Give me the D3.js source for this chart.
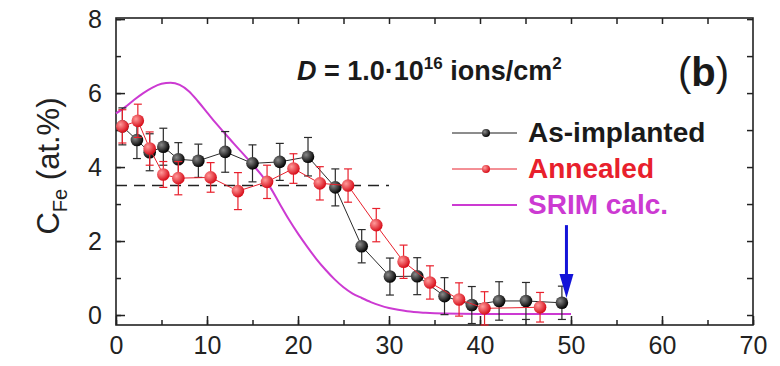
<!DOCTYPE html>
<html>
<head>
<meta charset="utf-8">
<script src="https://cdn.jsdelivr.net/npm/d3@7"></script>
<style>
  body { margin: 0; background: #fff; }
  svg { display: block; font-family: "Liberation Sans", Arial, sans-serif; }
</style>
</head>
<body>
<svg id="chart" width="780" height="366"></svg>
<script>
// depth (nm) and Fe concentration (at.%)
const asX   = [0.7, 2.3, 3.7, 5.2, 6.85, 9.05, 12.0, 15.0, 18.0, 21.1, 24.1, 27.0, 30.1, 33.1, 36.1, 39.1, 42.1, 45.05, 49.0];
const asY   = [5.1, 4.73, 4.4, 4.55, 4.21, 4.17, 4.41, 4.1, 4.14, 4.28, 3.45, 1.86, 1.04, 1.05, 0.51, 0.27, 0.38, 0.38, 0.33];
const asErr = [0.5, 0.5, 0.5, 0.5, 0.45, 0.45, 0.55, 0.5, 0.5, 0.52, 0.5, 0.45, 0.5, 0.5, 0.5, 0.5, 0.52, 0.5, 0.45];

const anX   = [0.7, 2.4, 3.7, 5.2, 6.85, 10.4, 13.4, 16.6, 19.5, 22.4, 25.5, 28.6, 31.6, 34.5, 37.7, 40.5, 46.6];
const anY   = [5.1, 5.25, 4.5, 3.8, 3.7, 3.72, 3.35, 3.6, 3.96, 3.56, 3.5, 2.43, 1.44, 0.88, 0.42, 0.18, 0.21];
const anErr = [0.45, 0.45, 0.45, 0.35, 0.45, 0.4, 0.5, 0.45, 0.4, 0.45, 0.45, 0.45, 0.45, 0.45, 0.45, 0.45, 0.4];

const srimX = [0, 1, 2, 3, 4, 5, 6, 7, 8, 9, 10, 11, 12, 13, 14, 15, 16, 17, 18, 19, 20, 21, 22, 23, 24, 25, 26, 27, 28, 29, 30, 31, 32, 34, 36, 40, 45, 50];
const srimY = [5.45, 5.62, 5.82, 6.0, 6.15, 6.25, 6.28, 6.22, 6.05, 5.78, 5.48, 5.18, 4.9, 4.62, 4.35, 4.07, 3.78, 3.43, 3.0, 2.58, 2.2, 1.85, 1.52, 1.23, 0.97, 0.75, 0.58, 0.46, 0.35, 0.26, 0.19, 0.14, 0.1, 0.06, 0.04, 0.03, 0.03, 0.03];

const dashLevel = 3.5, dashEnd = 30;
const arrowX = 49.5, arrowTop = 2.43, arrowTip = 0.46;

const xMajor = [0, 10, 20, 30, 40, 50, 60, 70];
const yMajor = [0, 2, 4, 6, 8];

const legendLabels = ["As-implanted", "Annealed", "SRIM calc."];

const black = "#1a1a1a", red = "#e8202c", magenta = "#cc3ad2", blue = "#1414d8";

const svg = d3.select("#chart");
const mLeft = 116, mRight = 753, mTop = 18, mBottom = 325;

const x = d3.scaleLinear().domain([0, 70]).range([mLeft, mRight]);
const y = d3.scaleLinear().domain([-0.27, 8.03]).range([mBottom, mTop]);

// gradients for the ball markers
const defs = svg.append("defs");
function ball(id, c0, c1) {
  const g = defs.append("radialGradient").attr("id", id)
    .attr("cx", "35%").attr("cy", "35%").attr("r", "65%");
  g.append("stop").attr("offset", "0%").attr("stop-color", c0);
  g.append("stop").attr("offset", "100%").attr("stop-color", c1);
}
ball("gBlack", "#8a8a8a", "#050505");
ball("gRed", "#ff9a9a", "#d8101c");

// axes (ticks point inward)
const fmt = d3.format("d");
const axB = svg.append("g").attr("transform", `translate(0,${mBottom})`);
axB.call(d3.axisBottom(x).tickValues(d3.range(0, 71, 5)).tickSize(-5).tickFormat(""));
axB.append("g").call(d3.axisBottom(x).tickValues(xMajor).tickSize(-9).tickPadding(11).tickFormat(fmt));
const axL = svg.append("g").attr("transform", `translate(${mLeft},0)`);
axL.call(d3.axisLeft(y).tickValues(d3.range(0, 9, 1)).tickSize(-5).tickFormat(""));
axL.append("g").call(d3.axisLeft(y).tickValues(yMajor).tickSize(-9).tickPadding(14).tickFormat(fmt));
svg.append("g").attr("transform", `translate(0,${mTop})`)
  .call(d3.axisTop(x).tickValues(d3.range(5, 70, 5)).tickSize(-6).tickFormat(""));
svg.append("g").attr("transform", `translate(${mRight},0)`)
  .call(d3.axisRight(y).tickValues(d3.range(0, 9, 1)).tickSize(-6).tickFormat(""));

svg.selectAll(".domain").remove();
svg.selectAll(".tick line").attr("stroke", "#222").attr("stroke-width", 1.5);
svg.selectAll(".tick text").attr("font-size", 25).attr("fill", "#222")
  .attr("font-family", "Liberation Sans, Arial, sans-serif");

svg.append("rect").attr("x", mLeft).attr("y", mTop)
  .attr("width", mRight - mLeft).attr("height", mBottom - mTop)
  .attr("fill", "none").attr("stroke", "#222").attr("stroke-width", 1.6);

// dashed reference level
svg.append("line")
  .attr("x1", x(0)).attr("x2", x(dashEnd))
  .attr("y1", y(dashLevel)).attr("y2", y(dashLevel))
  .attr("stroke", "#222").attr("stroke-width", 1.6).attr("stroke-dasharray", "11,7");

// SRIM curve
const srim = srimX.map((d, i) => [d, srimY[i]]);
svg.append("path").datum(srim)
  .attr("d", d3.line().x(d => x(d[0])).y(d => y(d[1])).curve(d3.curveMonotoneX))
  .attr("fill", "none").attr("stroke", magenta).attr("stroke-width", 2);

function series(xs, ys, es, col, grad) {
  const pts = xs.map((d, i) => ({ x: d, y: ys[i], e: es[i] }));
  const g = svg.append("g");
  g.append("path").datum(pts)
    .attr("d", d3.line().x(d => x(d.x)).y(d => y(d.y)))
    .attr("fill", "none").attr("stroke", col).attr("stroke-width", 1);
  const eb = g.selectAll(".eb").data(pts).enter().append("g")
    .attr("stroke", col).attr("stroke-width", 1.2);
  eb.append("line").attr("x1", d => x(d.x)).attr("x2", d => x(d.x))
    .attr("y1", d => y(d.y - d.e)).attr("y2", d => y(d.y + d.e));
  eb.append("line").attr("x1", d => x(d.x) - 4).attr("x2", d => x(d.x) + 4)
    .attr("y1", d => y(d.y + d.e)).attr("y2", d => y(d.y + d.e));
  eb.append("line").attr("x1", d => x(d.x) - 4).attr("x2", d => x(d.x) + 4)
    .attr("y1", d => y(d.y - d.e)).attr("y2", d => y(d.y - d.e));
  g.selectAll("circle").data(pts).enter().append("circle")
    .attr("cx", d => x(d.x)).attr("cy", d => y(d.y)).attr("r", 6.3)
    .attr("fill", `url(#${grad})`);
}
series(asX, asY, asErr, "#2a2a2a", "gBlack");
series(anX, anY, anErr, red, "gRed");

// blue arrow
svg.append("line")
  .attr("x1", x(arrowX)).attr("x2", x(arrowX))
  .attr("y1", y(arrowTop)).attr("y2", y(arrowTip) - 20)
  .attr("stroke", blue).attr("stroke-width", 3);
svg.append("path")
  .attr("d", `M${x(arrowX) - 7},${y(arrowTip) - 24} L${x(arrowX) + 7},${y(arrowTip) - 24} L${x(arrowX)},${y(arrowTip)} Z`)
  .attr("fill", blue);

// legend
const legColors = [black, red, magenta];
const legY = [133, 169, 205];
legendLabels.forEach((lab, i) => {
  svg.append("line").attr("x1", 452).attr("x2", 517)
    .attr("y1", legY[i]).attr("y2", legY[i])
    .attr("stroke", legColors[i]).attr("stroke-width", i === 2 ? 2 : 1);
  if (i < 2) {
    svg.append("circle").attr("cx", 486).attr("cy", legY[i]).attr("r", 4)
      .attr("fill", i === 0 ? "url(#gBlack)" : "url(#gRed)");
  }
  svg.append("text").attr("x", 528).attr("y", legY[i] + 9)
    .attr("font-size", 28).attr("font-weight", "bold")
    .attr("fill", legColors[i]).text(lab);
});

// dose annotation
const ann = svg.append("text").attr("x", 297).attr("y", 80)
  .attr("font-size", 27).attr("font-weight", "bold").attr("fill", "#1a1a1a");
ann.append("tspan").attr("font-style", "italic").text("D");
ann.append("tspan").text(" = 1.0·10");
ann.append("tspan").attr("font-size", 17).attr("dy", -11).text("16");
ann.append("tspan").attr("dy", 11).text(" ions/cm");
ann.append("tspan").attr("font-size", 17).attr("dy", -11).text("2");

// panel label
const pl = svg.append("text").attr("x", 678).attr("y", 86)
  .attr("font-size", 40).attr("fill", "#1a1a1a");
pl.append("tspan").text("(");
pl.append("tspan").attr("font-weight", "bold").text("b");
pl.append("tspan").text(")");

// y axis title
const yt = svg.append("text")
  .attr("transform", "translate(59,166) rotate(-90)")
  .attr("text-anchor", "middle").attr("font-size", 31).attr("fill", "#222");
yt.append("tspan").text("C");
yt.append("tspan").attr("font-size", 20).attr("dy", 8).text("Fe");
yt.append("tspan").attr("dy", -8).text(" (at.%)");
</script>
</body>
</html>
